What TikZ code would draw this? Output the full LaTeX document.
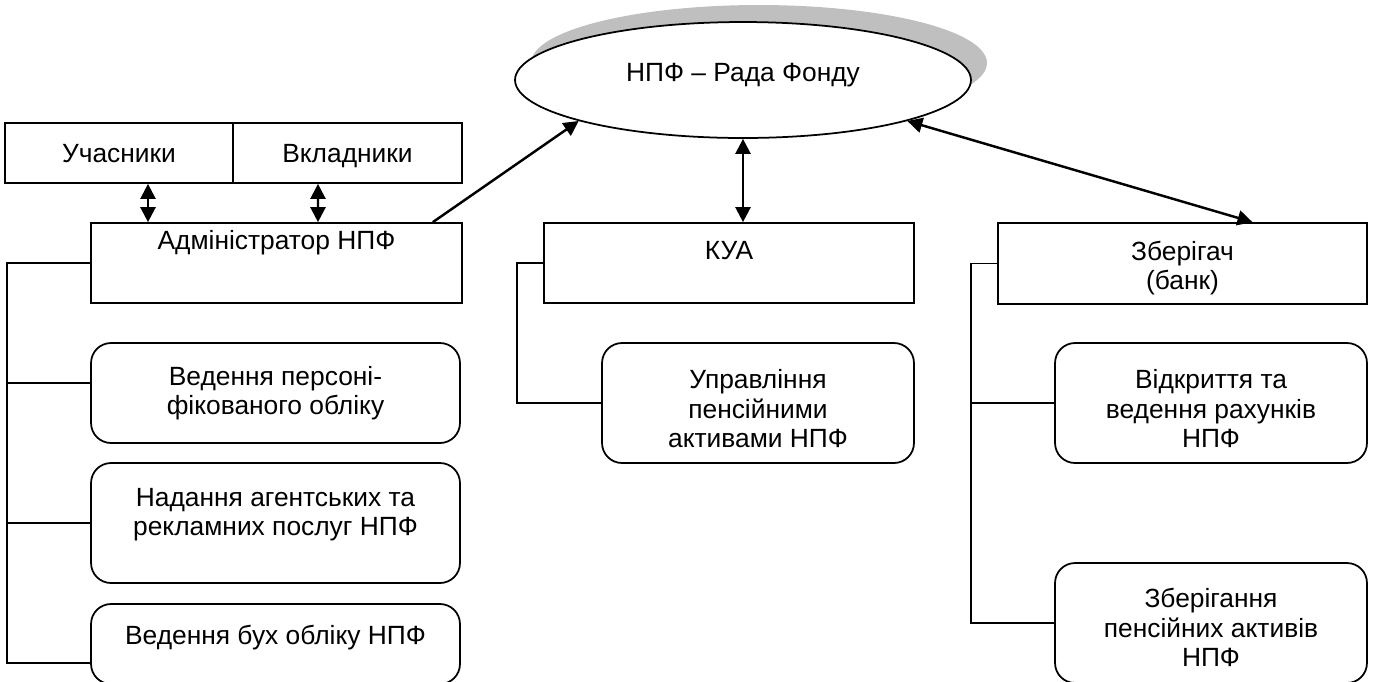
\documentclass[tikz,border=0pt]{standalone}
\usepackage{fontspec}
\setmainfont{Liberation Sans}
\usetikzlibrary{calc, shapes.geometric, shadows, arrows.meta}

\begin{document}
\begin{tikzpicture}[x=0.02cm, y=-0.02cm,
    font=\fontsize{15}{16.8}\selectfont,
    blk/.style={draw, line width=1pt, inner sep=0pt, align=center},
    task/.style={draw, line width=1pt, rounded corners=0.4cm, inner sep=0pt, align=center},
    conn/.style={line width=1pt},
    arr/.style={line width=1.4pt, -{Triangle[length=0.3cm, width=0.3cm]}},
    darr/.style={line width=1.4pt, {Triangle[length=0.3cm, width=0.3cm]}-{Triangle[length=0.3cm, width=0.3cm]}}]
    \useasboundingbox (0, 0) rectangle (1375, 681);

    \node[ellipse, draw, line width=1pt, fill=white, minimum width=9.12cm, minimum height=2.32cm, inner sep=0pt, text depth=9.2pt,
        drop shadow={shadow xshift=0.32cm, shadow yshift=0.34cm, fill=black!25, opacity=1}] (rada) at (743, 80) {НПФ – Рада Фонду};

    \node[blk, minimum width=4.56cm, minimum height=1.2cm, text height=10.7pt, text depth=0pt] (uch) at (119, 153) {Учасники};
    \node[blk, minimum width=4.58cm, minimum height=1.2cm, text height=10.7pt, text depth=0pt] (vkl) at (347.5, 153) {Вкладники};
    \node[blk, minimum width=7.42cm, minimum height=1.6cm, text depth=26pt] (adm) at (276.5, 263) {Адміністратор НПФ};
    \node[blk, minimum width=7.4cm, minimum height=1.6cm, text depth=14.8pt] (kua) at (729, 263) {КУА};
    \node[blk, minimum width=7.38cm, minimum height=1.62cm] (zber) at (1182.5, 263.5) {\rule{0pt}{16.3pt}Зберігач\\(банк)};

    \node[task, minimum width=7.38cm, minimum height=2cm] (pers) at (275.5, 393) {Ведення персоні-\\фікованого обліку};
    \node[task, minimum width=7.38cm, minimum height=2.4cm, text depth=12.5pt] (nad) at (275.5, 523) {Надання агентських та\\рекламних послуг НПФ};
    \node[task, minimum width=7.38cm, minimum height=1.6cm, text depth=10pt] (buh) at (275.5, 644) {Ведення бух обліку НПФ};
    \node[task, minimum width=6.24cm, minimum height=2.4cm] (upr) at (758, 403) {\rule{0pt}{17.5pt}Управління\\пенсійними\\активами НПФ};
    \node[task, minimum width=6.24cm, minimum height=2.4cm] (vid) at (1211, 403) {\rule{0pt}{17.5pt}Відкриття та\\ведення рахунків\\НПФ};
    \node[task, minimum width=6.24cm, minimum height=2.4cm] (zbe) at (1211, 623) {\rule{0pt}{16.3pt}Зберігання\\пенсійних активів\\НПФ};

    \coordinate (lb) at (7, 663);
    \coordinate (mb) at (517, 0);
    \coordinate (rb) at (971, 0);

    \draw[darr] ($(uch.south)+(29,0)$) -- ($(adm.north)+(-128.5,0)$);
    \draw[darr] ($(vkl.south)+(-29.5,0)$) -- ($(adm.north)+(41.5,0)$);
    \draw[arr] ($(adm.north east)+(-30,0)$) -- (rada.194);
    \draw[darr] (rada.south) -- (rada.south |- kua.north);
    \draw[darr] (rada.346) -- ($(zber.north)+(70,0)$);

    \draw[conn] (adm.west) -| (lb) -- (buh.west |- lb);
    \draw[conn] ($(pers.west)+(0,-10)$) -- ($(pers.west)+(-84,-10)$);
    \draw[conn] (lb |- nad.west) -- (nad.west);
    \draw[conn] (kua.west) -| (mb |- upr.west) -- (upr.west);
    \draw[conn] (zber.west) -| (rb |- zbe.west) -- (zbe.west);
    \draw[conn] (rb |- vid.west) -- (vid.west);
\end{tikzpicture}
\end{document}
